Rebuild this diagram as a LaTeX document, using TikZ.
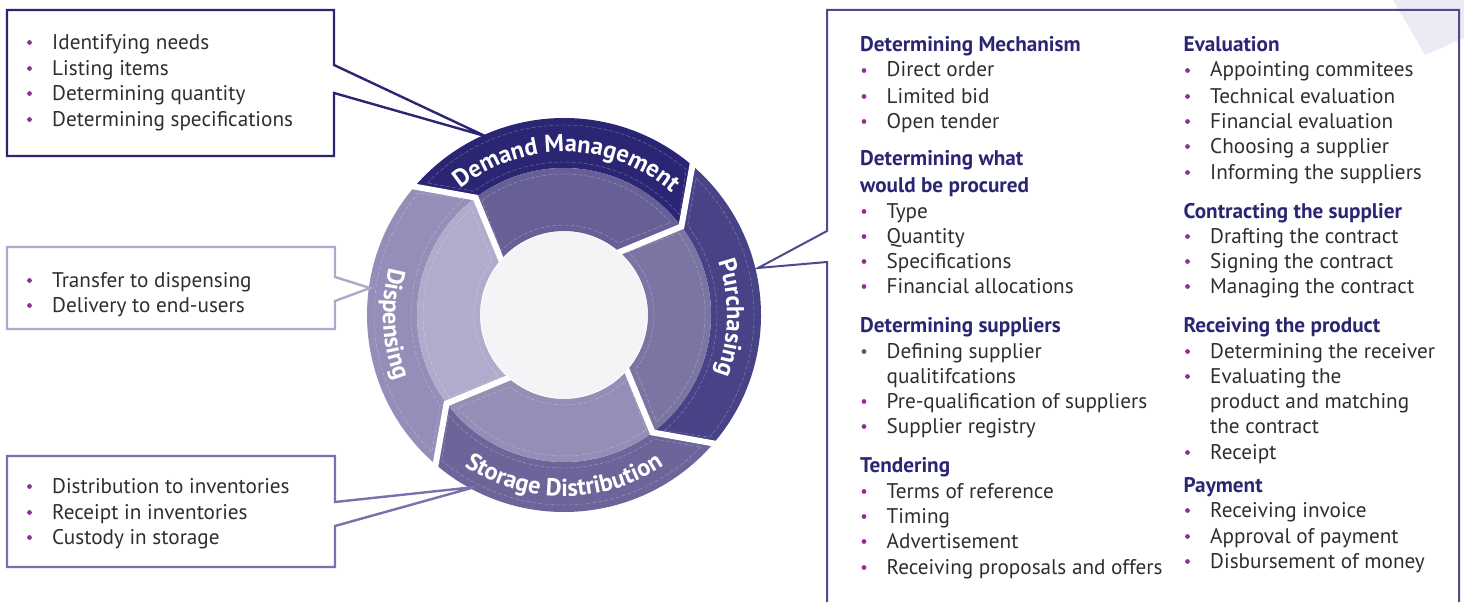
\documentclass[tikz,border=0pt]{standalone}
\usepackage{fontspec}
\setmainfont{PT Sans}
\usetikzlibrary{decorations.text}

\definecolor{navy}{HTML}{2B2673}
\definecolor{dmouter}{HTML}{2B2673}
\definecolor{dminner}{HTML}{676097}
\definecolor{puouter}{HTML}{484386}
\definecolor{puinner}{HTML}{7B75A3}
\definecolor{stouter}{HTML}{6C6599}
\definecolor{stinner}{HTML}{958EB6}
\definecolor{diouter}{HTML}{958EB8}
\definecolor{diinner}{HTML}{B0ACCB}
\definecolor{hubgrey}{HTML}{F4F4F6}
\definecolor{dotpurple}{HTML}{8E3096}
\definecolor{bodytext}{HTML}{2E2E2E}
\definecolor{cornerlav}{HTML}{ECEBF3}
\definecolor{displine}{HTML}{ADA8CC}
\definecolor{storline}{HTML}{7771AD}
\definecolor{procline}{HTML}{4D4A8F}

\newcommand{\rOut}{197}
\newcommand{\rMid}{147}
\newcommand{\rIn}{84}
\newcommand{\ringlabel}{\bfseries\color{white}\fontsize{24.5}{28}\selectfont}

% one quarter of the ring: start angle, end angle, outer colour, inner colour
\newcommand{\ringpart}[4]{%
  \fill[#3] (#1:\rOut) arc[start angle=#1, end angle=#2, radius=\rOut]
    -- ({#2-13}:\rMid) arc[start angle=#2-13, end angle=#1-13, radius=\rMid] -- cycle;
  \fill[#4] ({#1-13}:\rMid) arc[start angle=#1-13, end angle=#2-13, radius=\rMid]
    -- (#2:\rIn) arc[start angle=#2, end angle=#1, radius=\rIn] -- cycle;
  % thin dashed inset lines
  \draw[inset] ({#1-4}:{\rOut-7}) arc[start angle=#1-4, end angle=#2, radius=\rOut-7]
    -- ({#2-9}:{\rMid+6}) arc[start angle=#2-9, end angle=#1-14, radius=\rMid+6] -- cycle;
  \draw[inset] ({#1-14.5}:{\rMid-6}) arc[start angle=#1-14.5, end angle=#2-9, radius=\rMid-6]
    -- ({#2+3}:{\rIn+6}) arc[start angle=#2+3, end angle=#1-5.5, radius=\rIn+6] -- cycle;
}

\tikzset{
  gap/.style={white, line width=6pt, line join=miter},
  inset/.style={white, opacity=0.3, line width=0.5pt, dash pattern=on 4pt off 2pt},
  framenode/.style={anchor=north west, inner sep=0pt, outer sep=0pt},
  frameline/.style={line width=2.4pt, line join=miter},
  itemtext/.style={anchor=base west, inner sep=0pt, text=bodytext, font=\fontsize{21.2}{25}\selectfont},
  headtext/.style={anchor=base west, inner sep=0pt, text=navy, font=\fontsize{21.2}{25}\selectfont\bfseries},
  dot/.style={fill=dotpurple},
}

\begin{document}
\begin{tikzpicture}[x=1pt, y=1pt]
\useasboundingbox (0,0) rectangle (1464,-602);
\clip (0,0) rectangle (1464,-602);

% Light corner shape behind the right panel
\fill[cornerlav] (1393,0) -- (1425,-55) -- (1464,-38) -- (1464,0) -- cycle;

% The cycle ring
\begin{scope}[shift={(564,-315)}]
  \ringpart{140}{50}{dmouter}{dminner}
  \ringpart{50}{-40}{puouter}{puinner}
  \ringpart{-40}{-130}{stouter}{stinner}
  \ringpart{-130}{-220}{diouter}{diinner}
  % white cuts between the parts
  \foreach \a in {140,50,-40,-130}
    \draw[gap] ({\a}:{\rOut+4}) -- ({\a-13}:\rMid) -- ({\a}:{\rIn-4});
  \fill[hubgrey] (0,0) circle[radius=\rIn-1];
  % labels along the outer band
  \path[decorate, decoration={text along path, text align=center,
    text={|\ringlabel|Demand Management}}]
    (149:163) arc[start angle=149, end angle=29, radius=163];
  \path[decorate, decoration={text along path, text align=center,
    text={|\ringlabel|Purchasing}}]
    (59:163) arc[start angle=59, end angle=-61, radius=163];
  \path[decorate, decoration={text along path, text align=center,
    text={|\ringlabel|Storage Distribution}}]
    (-150:181) arc[start angle=-150, end angle=-30, radius=181];
  \path[decorate, decoration={text along path, text align=center,
    text={|\ringlabel|Dispensing}}]
    (123:181) arc[start angle=123, end angle=243, radius=181];
\end{scope}

% Demand management box
\node[framenode, minimum width=327pt, minimum height=146pt] (dmframe) at (7,-10) {};
\coordinate (dmtip) at (485,-136);
\draw[frameline, draw=navy] (dmframe.north west) -- (dmframe.north east)
  -- ([yshift=-55pt]dmframe.north east) -- (dmtip) -- ([yshift=-83pt]dmframe.north east)
  -- (dmframe.south east) -- (dmframe.south west) -- cycle;
\foreach \y/\t in {49/Identifying needs, 75/Listing items, 100/Determining quantity,
                   126/Determining specifications} {
  \fill[dot] (29.5,-\y+6.5) circle (2.4);
  \node[itemtext] (dm\y) at (52,-\y) {\t};
}

% Dispensing box
\node[framenode, minimum width=328pt, minimum height=82pt] (diframe) at (7,-247) {};
\coordinate (ditip) at (370,-288);
\draw[frameline, draw=displine] (diframe.north west) -- (diframe.north east)
  -- ([yshift=-30pt]diframe.north east) -- (ditip) -- ([yshift=-54pt]diframe.north east)
  -- (diframe.south east) -- (diframe.south west) -- cycle;
\foreach \y/\t in {287/Transfer to dispensing, 312/Delivery to end-users} {
  \fill[dot] (29.5,-\y+6.5) circle (2.4);
  \node[itemtext] (di\y) at (52,-\y) {\t};
}

% Storage box
\node[framenode, minimum width=328pt, minimum height=111pt] (stframe) at (7,-456) {};
\coordinate (sttip) at (475,-487);
\draw[frameline, draw=storline] (stframe.north west) -- (stframe.north east)
  -- ([yshift=-46pt]stframe.north east) -- (sttip) -- ([yshift=-70pt]stframe.north east)
  -- (stframe.south east) -- (stframe.south west) -- cycle;
\foreach \y/\t in {493/Distribution to inventories, 519/Receipt in inventories,
                   544/Custody in storage} {
  \fill[dot] (29.5,-\y+6.5) circle (2.4);
  \node[itemtext] (st\y) at (52,-\y) {\t};
}

% Purchasing panel, open at the bottom
\node[framenode, minimum width=632pt, minimum height=620pt] (puframe) at (827,-10) {};
\coordinate (putip) at (758,-268);
\draw[frameline, line width=2pt, draw=procline] (puframe.south west)
  -- ([yshift=-252pt]puframe.north west) -- (putip) -- ([yshift=-221pt]puframe.north west)
  -- (puframe.north west) -- (puframe.north east) -- (puframe.south east);

% first column
\foreach \y/\t in {52/Determining Mechanism, 165/Determining what, 192/would be procured,
                   332/Determining suppliers, 472/Tendering}
  \node[headtext] (ha\y) at (860,-\y) {\t};
\foreach \y/\t in {77/Direct order, 103/Limited bid, 128/Open tender, 218/Type,
                   243/Quantity, 268/Specifications, 293/Financial allocations,
                   358/Defining supplier, 408/Pre-qualification of suppliers,
                   433/Supplier registry, 498/Terms of reference, 523/Timing,
                   548/Advertisement, 574/Receiving proposals and offers} {
  \fill[dot] (864,-\y+6.5) circle (2.4);
  \node[itemtext] (ia\y) at (886.5,-\y) {\t};
}
\node[itemtext] (ia383) at (886.5,-383) {qualitifcations};

% second column
\foreach \y/\t in {52/Evaluation, 218/Contracting the supplier,
                   332/Receiving the product, 492/Payment}
  \node[headtext] (hb\y) at (1183.5,-\y) {\t};
\foreach \y/\t in {77/Appointing commitees, 103/Technical evaluation,
                   128/Financial evaluation, 153/Choosing a supplier,
                   179/Informing the suppliers, 243/Drafting the contract,
                   268/Signing the contract, 293/Managing the contract,
                   358/Determining the receiver, 383/Evaluating the, 459/Receipt,
                   517/Receiving invoice, 543/Approval of payment,
                   568/Disbursement of money} {
  \fill[dot] (1187.5,-\y+6.5) circle (2.4);
  \node[itemtext] (ib\y) at (1210,-\y) {\t};
}
\node[itemtext] (ib408) at (1210,-408) {product and matching};
\node[itemtext] (ib433) at (1210,-433) {the contract};

\end{tikzpicture}
\end{document}
